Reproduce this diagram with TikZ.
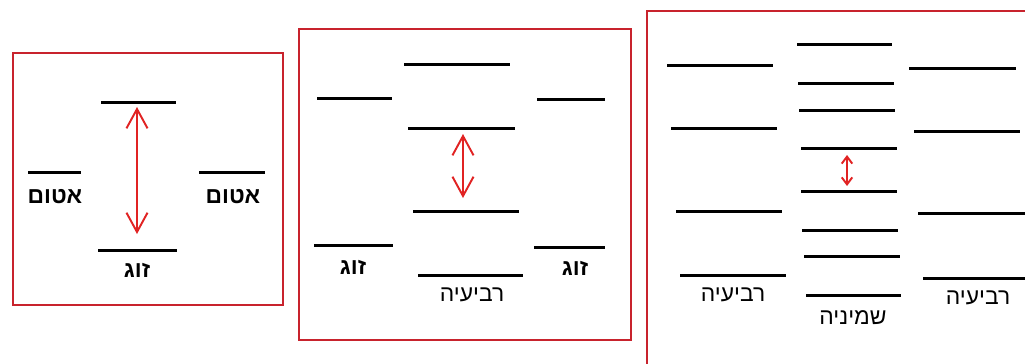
\documentclass[tikz,border=0pt]{standalone}
\usepackage{fontspec}
\newfontfamily\hebfont[Script=Hebrew]{Liberation Sans}
\TeXXeTstate=1
\usepackage{tikz}
\usetikzlibrary{arrows.meta}

\definecolor{boxred}{RGB}{200,35,45}
\definecolor{arrred}{RGB}{225,35,35}

\begin{document}
\begin{tikzpicture}[
  x=0.02cm, y=-0.02cm,
  frame/.style={draw=boxred, line width=1.5pt},
  level/.style={line width=1.7pt},
  gap/.style={arrred, line width=1.1pt,
    {Straight Barb[length=11pt,width=12pt]}-{Straight Barb[length=11pt,width=12pt]}},
  smallgap/.style={arrred, line width=1.1pt,
    {Straight Barb[length=4pt,width=6pt]}-{Straight Barb[length=4pt,width=6pt]}},
  lbl/.style={font=\hebfont\fontsize{13}{15}\selectfont, inner sep=0pt},
  blbl/.style={lbl, font=\hebfont\bfseries\fontsize{13}{15}\selectfont},
]
  \clip (0,0) rectangle (1025,363);

  % First box: atom + atom
  \draw[frame] (13,53) rectangle (283,305);
  \draw[level] (101,102) -- (176,102);
  \draw[level] (28,172) -- (81,172);
  \draw[level] (199,172) -- (265,172);
  \draw[level] (98,250) -- (177,250);
  \coordinate (g1a) at (137,107);
  \coordinate (g1b) at (137,234);
  \draw[gap] (g1a) -- (g1b);
  \node[blbl] (atomL) at (55,197) {\beginR אטום\endR};
  \node[blbl] (atomR) at (233,197) {\beginR אטום\endR};
  \node[blbl] (pair1) at (137,270) {\beginR זוג\endR};

  % Second box: pair + pair
  \draw[frame] (299,29) rectangle (631,340);
  \draw[level] (317,98) -- (392,98);
  \draw[level] (404,64) -- (510,64);
  \draw[level] (537,99) -- (605,99);
  \draw[level] (408,128) -- (515,128);
  \draw[level] (413,211) -- (519,211);
  \draw[level] (314,245) -- (393,245);
  \draw[level] (534,247) -- (605,247);
  \draw[level] (418,275) -- (523,275);
  \coordinate (g2a) at (463,134);
  \coordinate (g2b) at (463,198);
  \draw[gap] (g2a) -- (g2b);
  \node[blbl] (pairL) at (353,267) {\beginR זוג\endR};
  \node[blbl] (pairR) at (575,268) {\beginR זוג\endR};
  \node[lbl] (quad2) at (472,295) {\beginR רביעיה\endR};

  % Third box: quartet + quartet
  \draw[frame] (647,11) rectangle (1045,380);
  \foreach \y/\a/\b in {65/667/773, 128/671/777, 211/676/782, 275/680/786}
    \draw[level] (\a,\y) -- (\b,\y);
  \foreach \y/\a/\b in {44/797/892, 83/798/894, 110/799/895, 148/801/897,
                        191/801/897, 230/802/898, 256/804/900, 295/806/901}
    \draw[level] (\a,\y) -- (\b,\y);
  \foreach \y/\a/\b in {68/909/1016, 131/914/1020, 213/918/1030, 278/923/1030}
    \draw[level] (\a,\y) -- (\b,\y);
  \coordinate (g3a) at (847,155);
  \coordinate (g3b) at (847,186);
  \draw[smallgap] (g3a) -- (g3b);
  \node[lbl] (quadL) at (733,295) {\beginR רביעיה\endR};
  \node[lbl] (oct) at (853,318) {\beginR שמיניה\endR};
  \node[lbl] (quadR) at (978,298) {\beginR רביעיה\endR};
\end{tikzpicture}
\end{document}
